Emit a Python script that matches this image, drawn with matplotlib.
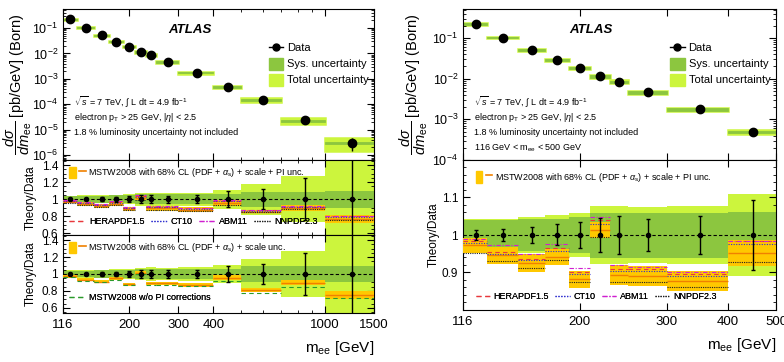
import numpy as np
import matplotlib
matplotlib.use('Agg')
import matplotlib.pyplot as plt
from matplotlib.patches import Patch
from matplotlib.lines import Line2D
from matplotlib.legend_handler import HandlerTuple
from matplotlib.ticker import FixedLocator, FixedFormatter, NullFormatter, MultipleLocator

plt.rcParams['font.family'] = ['Liberation Sans', 'DejaVu Sans']
plt.rcParams['mathtext.fontset'] = 'custom'
plt.rcParams['mathtext.rm'] = 'Liberation Sans'
plt.rcParams['mathtext.it'] = 'Liberation Sans:italic'
plt.rcParams['mathtext.bf'] = 'Liberation Sans:bold'

# m_ee bin edges [GeV]
edges = [116, 130, 150, 170, 190, 210, 230, 250, 300, 400, 500, 700, 1000, 1500]
# measured cross section [pb/GeV]
xsec = [0.224, 0.1027, 0.0511, 0.0287, 0.0183, 0.0114, 0.0085, 0.0046, 0.00175,
        0.00048, 0.000150, 2.3e-5, 3.0e-6]
# relative uncertainties
stat = [0.013, 0.015, 0.021, 0.028, 0.034, 0.045, 0.050, 0.043, 0.050, 0.093, 0.12, 0.245, 0.50]
sys_unc = [0.040, 0.040, 0.042, 0.044, 0.047, 0.060, 0.060, 0.060, 0.060, 0.062, 0.09, 0.09, 0.10]
tot_unc = [0.043, 0.044, 0.048, 0.054, 0.058, 0.076, 0.077, 0.074, 0.078, 0.11, 0.18, 0.27, 0.52]

# theory / data, with PI corrections
mstw = [0.972, 0.946, 0.925, 0.942, 0.882, 1.014, 0.893, 0.891, 0.878, 0.952, 0.853, 0.895, 0.77]
mstw_err = [0.020, 0.022, 0.024, 0.022, 0.022, 0.022, 0.026, 0.027, 0.026, 0.035, 0.02, 0.035, 0.05]
hera = [0.983, 0.954, 0.937, 0.964, 0.900, 1.040, 0.910, 0.909, 0.895, 0.983, 0.87, 0.91, 0.80]
ct10 = [0.978, 0.950, 0.932, 0.958, 0.895, 1.030, 0.905, 0.905, 0.890, 0.975, 0.86, 0.905, 0.79]
abm11 = [0.990, 0.972, 0.948, 0.975, 0.911, 1.049, 0.919, 0.915, 0.900, 0.985, 0.875, 0.915, 0.80]
nnpdf = [0.953, 0.930, 0.913, 0.933, 0.874, 0.995, 0.875, 0.874, 0.860, 0.928, 0.845, 0.885, 0.76]

# theory / data, scale unc. only (second left panel)
mstw2 = [0.975, 0.932, 0.910, 0.950, 0.880, 1.010, 0.890, 0.890, 0.872, 0.958, 0.812, 0.898, 0.752]
mstw2_err = [0.018, 0.015, 0.018, 0.020, 0.018, 0.025, 0.015, 0.015, 0.020, 0.030, 0.024, 0.030, 0.045]
nopi = [0.962, 0.920, 0.900, 0.935, 0.870, 0.995, 0.876, 0.876, 0.860, 0.920, 0.776, 0.850, 0.712]

TOT = '#ccf53d'
SYS = '#8cc63f'
ORF = '#ffc800'
ORL = '#f08000'

W, H = 784, 362
fig = plt.figure(figsize=(W / 100, H / 100), dpi=100)


def px_axes(x0, y0, x1, y1):
    return fig.add_axes([x0 / W, 1 - y1 / H, (x1 - x0) / W, (y1 - y0) / H])


def style(ax):
    ax.tick_params(which='both', direction='in', top=True, right=True, labelsize=9)
    ax.tick_params(which='major', length=5)
    ax.tick_params(which='minor', length=2.5)
    ax.set_xscale('log')


def top_panel(ax, n, ylim, lx, texts):
    e = edges[:n + 1]
    cen = [(e[i] + e[i + 1]) / 2 for i in range(n)]
    for i in range(n):
        w = e[i + 1] - e[i]
        y = xsec[i]
        ax.bar(e[i], 2 * y * tot_unc[i], w, y * (1 - tot_unc[i]), align='edge',
               color=TOT, edgecolor=TOT, lw=1.8, zorder=1)
        ax.bar(e[i], 2 * y * sys_unc[i], w, y * (1 - sys_unc[i]), align='edge',
               color=SYS, edgecolor=SYS, lw=0.6, zorder=2)
    ax.errorbar(cen, xsec[:n], yerr=np.array(xsec[:n]) * np.array(stat[:n]),
                fmt='o', color='k', ms=6, elinewidth=1, capsize=0, zorder=3)
    ax.set_yscale('log')
    ax.set_ylim(*ylim)
    ax.set_xlim(e[0], e[-1])
    style(ax)
    ax.xaxis.set_major_formatter(NullFormatter())
    ax.xaxis.set_minor_formatter(NullFormatter())
    ax.set_ylabel(r'$\dfrac{d\sigma}{dm_{\rm ee}}$ [pb/GeV] (Born)', fontsize=10.5)
    ax.yaxis.set_label_coords(lx, 0.5)
    ax.text(0.34, 0.84, 'ATLAS', transform=ax.transAxes, fontsize=9.5,
            fontweight='bold', style='italic')
    for k, t in enumerate(texts):
        ax.text(0.035, 0.38 - k * 0.1, t, transform=ax.transAxes, fontsize=6.5, va='center')
    h = [Line2D([0], [0], color='k', marker='o', ms=5, lw=1),
         Patch(color=SYS), Patch(color=TOT)]
    ax.legend(h, ['Data', 'Sys. uncertainty', 'Total uncertainty'], loc='upper left',
              bbox_to_anchor=(0.63, 0.85), frameon=False, fontsize=8,
              handlelength=1.3, handleheight=1.3, labelspacing=0.35, handletextpad=0.35)


def ratio_panel(ax, n, cenv, errv, lines, ylim):
    e = np.array(edges[:n + 1], dtype=float)
    cen = [(e[i] + e[i + 1]) / 2 for i in range(n)]
    t = np.append(tot_unc[:n], tot_unc[n - 1])
    s = np.append(sys_unc[:n], sys_unc[n - 1])
    ax.fill_between(e, 1 - t, 1 + t, step='post', color=TOT, lw=0, zorder=1)
    ax.fill_between(e, 1 - s, 1 + s, step='post', color=SYS, lw=0, zorder=2)
    ax.axhline(1, color='k', ls=(0, (3, 2)), lw=0.8, zorder=3)
    for i in range(n):
        ax.fill_between([e[i], e[i + 1]], cenv[i] - errv[i], cenv[i] + errv[i],
                        color=ORF, lw=0, zorder=4)
        ax.hlines(cenv[i], e[i], e[i + 1], color=ORL, lw=1.0, zorder=5)
        for vals, col, ls in lines:
            ax.hlines(vals[i], e[i], e[i + 1], color=col, ls=ls, lw=0.8, zorder=6)
    ax.errorbar(cen, np.ones(n), yerr=stat[:n], fmt='o', color='k', ms=3,
                elinewidth=1, capsize=1.5, capthick=1, zorder=7)
    ax.set_xlim(e[0], e[-1])
    ax.set_ylim(*ylim)
    style(ax)
    ax.tick_params(axis='y', labelsize=8.5)
    ax.set_ylabel('Theory/Data', fontsize=8.5)


pdf_lines = [(hera, '#e8383d', (0, (4, 3))), (ct10, '#3030d0', (0, (1, 1.3))),
             (abm11, '#d020d0', (0, (4, 1.5, 1, 1.5))), (nnpdf, '#202020', (0, (1, 1)))]
pdf_names = ['HERAPDF1.5', 'CT10', 'ABM11', 'NNPDF2.3']


def mstw_legend(ax, label, x, y):
    h = (Patch(color=ORF), Line2D([0], [0], color=ORL, lw=1.2))
    leg = ax.legend([h], [label], handler_map={tuple: HandlerTuple(ndivide=None)},
                    loc='upper left', bbox_to_anchor=(x, y), frameon=False,
                    fontsize=6.5, handlelength=1.8, handleheight=1.6, handletextpad=0.3,
                    borderaxespad=0.3)
    ax.add_artist(leg)


def pdf_legend(ax, handles, names, x, y, ncol, hl, cs):
    leg = ax.legend(handles, names, loc='lower left', bbox_to_anchor=(x, y),
                    frameon=False, fontsize=6.5, ncol=ncol, handlelength=hl,
                    columnspacing=cs, handletextpad=0.4, borderaxespad=0.3)
    ax.add_artist(leg)


pdf_handles = [Line2D([0], [0], color=c, ls=ls, lw=0.9) for _, c, ls in pdf_lines]

info = [r'$\sqrt{s}$ = 7 TeV, $\int$ L dt = 4.9 fb$^{-1}$',
        r'electron p$_{\rm T}$ > 25 GeV, |$\eta$| < 2.5',
        '1.8 % luminosity uncertainty not included']

# ---------------- left figure: full mass range ----------------
axL = px_axes(63, 9, 374, 160)
top_panel(axL, 13, (6.4e-7, 0.56), -0.093, info)

axL1 = px_axes(63, 160, 374, 235)
ratio_panel(axL1, 13, mstw, mstw_err, pdf_lines, (0.58, 1.46))
mstw_legend(axL1, r'MSTW2008 with 68% CL (PDF + $\alpha_{\rm s}$) + scale + PI unc.', 0.0, 1.0)
pdf_legend(axL1, pdf_handles, pdf_names, 0.0, 0.03, 4, 1.8, 0.7)

axL2 = px_axes(63, 235, 374, 313)
ratio_panel(axL2, 13, mstw2, mstw2_err, [(nopi, '#2a9a2a', (0, (4, 3)))], (0.54, 1.46))
mstw_legend(axL2, r'MSTW2008 with 68% CL (PDF + $\alpha_{\rm s}$) + scale unc.', 0.0, 1.0)
pdf_legend(axL2, [Line2D([0], [0], color='#2a9a2a', ls=(0, (4, 3)), lw=0.9)],
           ['MSTW2008 w/o PI corrections'], 0.0, 0.06, 1, 1.8, 0.7)

for ax in (axL1, axL2):
    ax.yaxis.set_major_locator(FixedLocator([0.6, 0.8, 1.0, 1.2, 1.4]))
    ax.yaxis.set_major_formatter(FixedFormatter(['0.6', '0.8', '1', '1.2', '1.4']))
    ax.yaxis.set_minor_locator(MultipleLocator(0.05))
    ax.yaxis.set_label_coords(-0.085, 0.5)
    ax.xaxis.set_major_locator(FixedLocator([116, 200, 300, 400, 1000, 1500]))
    ax.xaxis.set_minor_locator(FixedLocator([500, 600, 700, 800, 900]))
    ax.xaxis.set_minor_formatter(NullFormatter())
axL1.xaxis.set_major_formatter(NullFormatter())
axL2.xaxis.set_major_formatter(FixedFormatter(['116', '200', '300', '400', '1000', '1500']))
axL2.tick_params(axis='x', labelsize=9.5, pad=4)
axL.xaxis.set_major_locator(FixedLocator([116, 200, 300, 400, 1000, 1500]))
axL.xaxis.set_minor_locator(FixedLocator([500, 600, 700, 800, 900]))
fig.text(374 / W, 1 - 348 / H, r'm$_{\rm ee}$ [GeV]', ha='right', va='center', fontsize=11)

# ---------------- right figure: 116-500 GeV ----------------
axR = px_axes(463, 9, 776, 160)
top_panel(axR, 10, (1e-4, 0.52), -0.105,
          info + [r'116 GeV < m$_{\rm ee}$ < 500 GeV'])

axR1 = px_axes(463, 160, 776, 310)
ratio_panel(axR1, 10, mstw, mstw_err, pdf_lines, (0.8, 1.2))
mstw_legend(axR1, r'MSTW2008 with 68% CL (PDF + $\alpha_{\rm s}$) + scale + PI unc.', 0.02, 0.97)
pdf_legend(axR1, pdf_handles, pdf_names, 0.02, 0.02, 4, 1.6, 0.7)
axR1.yaxis.set_major_locator(FixedLocator([0.9, 1.0, 1.1]))
axR1.yaxis.set_major_formatter(FixedFormatter(['0.9', '1', '1.1']))
axR1.yaxis.set_minor_locator(MultipleLocator(0.02))
axR1.yaxis.set_label_coords(-0.075, 0.5)
for ax in (axR, axR1):
    ax.xaxis.set_major_locator(FixedLocator([116, 200, 300, 400, 500]))
    ax.xaxis.set_minor_locator(FixedLocator([]))
axR1.xaxis.set_major_formatter(FixedFormatter(['116', '200', '300', '400', '500']))
axR1.tick_params(axis='x', labelsize=9.5, pad=4)
fig.text(776 / W, 1 - 345 / H, r'm$_{\rm ee}$ [GeV]', ha='right', va='center', fontsize=11)

fig.savefig('out.png', dpi=100)
